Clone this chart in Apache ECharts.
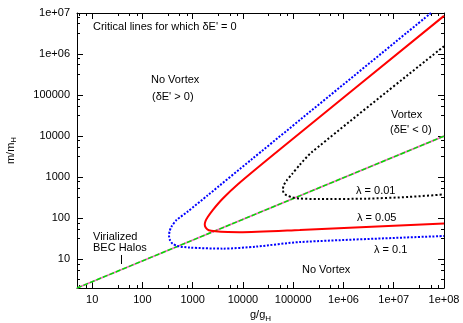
<!DOCTYPE html>
<html><head><meta charset="utf-8">
<script src="https://cdn.jsdelivr.net/npm/echarts@6/dist/echarts.min.js"></script>
<style>html,body{margin:0;padding:0;background:#fff}#c{width:463px;height:323px}</style>
</head><body><div id="c"></div>
<script>
// Axis ranges (g/g_H and m/m_H)
const xRange = [5, 1e8];
const yRange = [2, 1e7];
// Virialized BEC halos line
const virialized = [[5, 2], [1e8, 1e4]];
// Critical lines, lambda = 0.1 (blue dotted)
const lambda01 = [[5.5e7, 1e7], [1.48e4, 2700], [1995, 363], [794, 145], [471, 89], [380, 63], [347, 48], [339, 37], [355, 29], [398, 24], [501, 21], [871, 19.3], [3980, 18.2], [18600, 20.4], [1.35e5, 26.3], [1e8, 36.9]];
// lambda = 0.05 (red solid)
const lambda005 = [[1e8, 8.5e6], [5.4e4, 4740], [7940, 676], [3980, 302], [2510, 158], [1995, 107], [1800, 85], [1740, 70], [1820, 59], [2090, 51], [2820, 48], [5010, 46], [8510, 45.7], [1.35e5, 52], [1e8, 75]];
// lambda = 0.01 (black dotted)
const lambda001 = [[1e8, 1.55e6], [2.29e5, 3980], [1.35e5, 2000], [9.55e4, 1200], [7.41e4, 832], [6.46e4, 631], [6.24e4, 501], [6.46e4, 417], [7.41e4, 363], [9.55e4, 324], [1.35e5, 302], [3.16e5, 295], [2.88e6, 300], [2e7, 331], [1e8, 380]];

const FONT = '"Liberation Sans", Arial, sans-serif';
function fmt(v) {
  const e = Math.round(Math.log10(v));
  if (Math.abs(v - Math.pow(10, e)) > 1e-6 * v) return '';
  return e >= 6 ? '1e+' + String(e).padStart(2, '0') : String(Math.round(v));
}
function axisBase(extra) {
  return Object.assign({
    type: 'log', logBase: 10,
    axisLine: { show: true, lineStyle: { color: '#000', width: 1 } },
    axisTick: { show: true, inside: true, length: 6, lineStyle: { color: '#000' } },
    minorTick: { show: true, splitNumber: 4, length: 3, lineStyle: { color: '#000' } },
    splitLine: { show: false },
    minorSplitLine: { show: false }
  }, extra);
}
const rich = {
  a: { fontSize: 11, fontFamily: FONT, color: '#000', lineHeight: 14, verticalAlign: 'middle' },
  s: { fontSize: 8, fontFamily: FONT, color: '#000', verticalAlign: 'bottom' }
};
const chart = echarts.init(document.getElementById('c'), null, { renderer: 'canvas' });
const T = (x, y, text) => ({ type: 'text', x: x, y: y, style: { text: text, font: '11px ' + FONT, fill: '#000', verticalAlign: 'middle' } });
const option = {
  animation: false,
  backgroundColor: '#fff',
  grid: { left: 77, right: 19, top: 13, bottom: 35, containLabel: false, outerBoundsMode: 'none' },
  xAxis: [
    axisBase({ position: 'bottom', min: xRange[0], max: xRange[1],
      axisLabel: { formatter: fmt, color: '#000', fontSize: 11, fontFamily: FONT, margin: 6, showMinLabel: false },
      name: '{a|g/g}{s|H}', nameLocation: 'middle', nameGap: 20, nameTextStyle: { rich: rich } }),
    axisBase({ position: 'top', min: xRange[0], max: xRange[1], axisLabel: { show: false } })
  ],
  yAxis: [
    axisBase({ position: 'left', min: yRange[0], max: yRange[1],
      axisLabel: { formatter: fmt, color: '#000', fontSize: 11, fontFamily: FONT, margin: 7, showMinLabel: false },
      name: '{a|m/m}{s|H}', nameLocation: 'middle', nameGap: 59, nameTextStyle: { rich: rich } }),
    axisBase({ position: 'right', min: yRange[0], max: yRange[1], axisLabel: { show: false } })
  ],
  series: [
    { type: 'line', data: virialized, symbol: 'none', lineStyle: { color: '#ff66cc', width: 1.8 }, z: 2 },
    { type: 'line', data: virialized, symbol: 'none', lineStyle: { color: '#00e000', width: 1.5, type: [5, 2] }, z: 3 },
    { type: 'line', data: lambda01, symbol: 'none', smooth: 0.25, lineStyle: { color: '#0000ff', width: 2, type: [2, 1.6] }, z: 4 },
    { type: 'line', data: lambda005, symbol: 'none', smooth: 0.25, lineStyle: { color: '#ff0000', width: 2 }, z: 4 },
    { type: 'line', data: lambda001, symbol: 'none', smooth: 0.25, lineStyle: { color: '#000000', width: 2, type: [2, 2.2] }, z: 4 }
  ],
  graphic: [
    T(93, 27, "Critical lines for which \u03b4E' = 0"),
    T(151, 80, 'No Vortex'),
    T(152, 97, "(\u03b4E' > 0)"),
    T(391, 115, 'Vortex'),
    T(390, 130, "(\u03b4E' < 0)"),
    T(356, 191, '\u03bb = 0.01'),
    T(357, 218, '\u03bb = 0.05'),
    T(374, 250, '\u03bb = 0.1'),
    T(302, 270, 'No Vortex'),
    T(93, 237, 'Virialized'),
    T(93, 248, 'BEC Halos'),
    { type: 'line', shape: { x1: 121.5, y1: 255, x2: 121.5, y2: 264 }, style: { stroke: '#000', lineWidth: 1 } }
  ]
};
chart.setOption(option);
</script>
</body></html>
